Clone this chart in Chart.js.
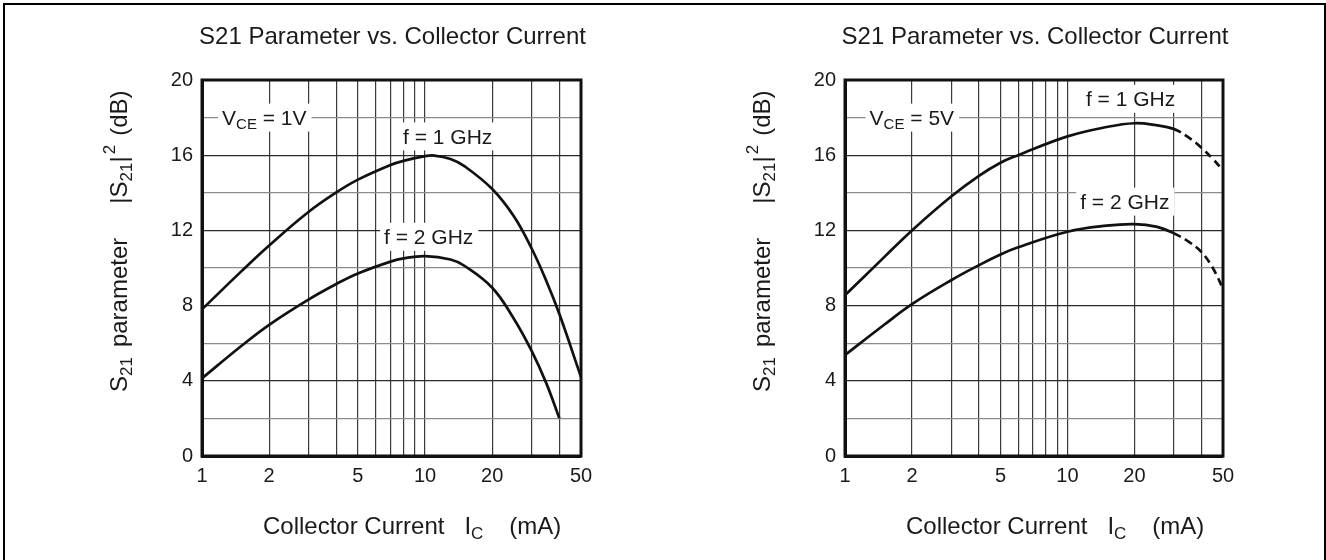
<!DOCTYPE html>
<html><head><meta charset="utf-8">
<script src="https://cdn.jsdelivr.net/npm/chart.js@4.4.1/dist/chart.umd.min.js"></script>
<style>
html,body{margin:0;padding:0;background:#fff;}
#wrap{position:relative;width:1326px;height:560px;overflow:hidden;background:#fff;}
.c{position:absolute;top:0;width:663px;height:560px;}
.frame{position:absolute;left:3px;top:3px;width:1323px;height:620px;border:2px solid #000;box-sizing:border-box;pointer-events:none;}
</style></head>
<body><div id="wrap">
<div class="c" style="left:0"><canvas id="c1" width="663" height="560"></canvas></div>
<div class="c" style="left:663px"><canvas id="c2" width="663" height="560"></canvas></div>
<div class="frame"></div>
</div>
<script>
// ---------- data ----------
const titleText = 'S21 Parameter vs. Collector Current';
const xGridValues = [1, 2, 3, 4, 5, 6, 7, 8, 9, 10, 20, 30, 40, 50];
const xTickLabels = [1, 2, 5, 10, 20, 50];
const yTickLabels = [0, 4, 8, 12, 16, 20];

// V_CE = 1V
const ic1GHz_1V = [1, 1.5, 2, 3, 4, 5, 7, 8, 10, 11, 13, 15, 20, 25, 30, 35, 40, 50];
const s21_1GHz_1V = [7.8, 9.82, 11.2, 12.98, 14.02, 14.7, 15.48, 15.7, 15.95, 15.98, 15.8, 15.42, 14.2, 12.75, 11.05, 9.3, 7.55, 4.2];
const ic2GHz_1V = [1, 1.5, 2, 3, 4, 5, 7, 8, 10, 13, 15, 20, 25, 30, 35, 40];
const s21_2GHz_1V = [4.13, 5.85, 6.98, 8.32, 9.15, 9.71, 10.34, 10.51, 10.63, 10.45, 10.12, 8.95, 7.3, 5.6, 3.85, 2.0];

// V_CE = 5V (dashed beyond 30 mA)
const ic_5V = [1, 1.5, 2, 3, 4, 5, 6, 10, 15, 20, 25, 30, 35, 40, 45, 50];
const s21_1GHz_5V = [8.55, 10.58, 12.0, 13.8, 14.9, 15.6, 16.0, 17.0, 17.5, 17.7, 17.6, 17.4, 16.95, 16.4, 15.8, 15.2];
const s21_2GHz_5V = [5.37, 6.98, 8.08, 9.35, 10.15, 10.72, 11.1, 11.93, 12.25, 12.33, 12.2, 11.85, 11.4, 10.85, 10.0, 8.9];
const dashedFrom_5V = 30;

// ---------- helpers ----------
const FONT = '"Liberation Sans", Arial, Helvetica, sans-serif';
const TXT = '#1a1a1a';
const pts = (xs, ys) => xs.map((x, i) => ({x, y: ys[i]}));

function drawRich(ctx, parts, x, y) {
  for (const p of parts) {
    if (p.gap) { x += p.gap; continue; }
    ctx.font = p.s + 'px ' + FONT;
    ctx.fillText(p.t, x, y + (p.dy || 0));
    x += ctx.measureText(p.t).width;
  }
  return x;
}
function richWidth(ctx, parts) {
  let w = 0;
  for (const p of parts) {
    if (p.gap) { w += p.gap; continue; }
    ctx.font = p.s + 'px ' + FONT;
    w += ctx.measureText(p.t).width;
  }
  return w;
}

const decoPlugin = {
  id: 'deco',
  beforeDatasetsDraw(chart, args, opts) {
    const ctx = chart.ctx, xs = chart.scales.x, ys = chart.scales.y;
    ctx.save();
    ctx.textBaseline = 'alphabetic';
    for (const n of opts.notes) {
      const px = xs.getPixelForValue(n.x), py = ys.getPixelForValue(n.y);
      const w = richWidth(ctx, n.parts);
      ctx.fillStyle = '#fff';
      ctx.fillRect(px - 4, py - 14, w + 9, 28);
      ctx.fillStyle = TXT;
      drawRich(ctx, n.parts, px, py + 7.5);
    }
    ctx.restore();
  },
  afterDraw(chart, args, opts) {
    const ctx = chart.ctx, a = chart.chartArea;
    ctx.save();
    ctx.strokeStyle = '#111';
    ctx.lineWidth = 3;
    ctx.strokeRect(a.left, a.top, a.right - a.left, a.bottom - a.top);
    ctx.fillStyle = TXT;
    ctx.textBaseline = 'alphabetic';
    // title
    ctx.font = '24px ' + FONT;
    ctx.textAlign = 'center';
    ctx.fillText(titleText, (a.left + a.right) / 2 + 1, 44);
    ctx.textAlign = 'left';
    // x axis title
    const xt = [{t:'Collector Current', s:24}, {gap:20}, {t:'I', s:24}, {t:'C', s:17, dy:5}, {gap:26}, {t:'(mA)', s:24}];
    drawRich(ctx, xt, a.left + 61, 534);
    // y axis title
    ctx.translate(a.left - 84, 392);
    ctx.rotate(-Math.PI / 2);
    const yt = [{t:'S', s:24}, {t:'21', s:17, dy:5}, {gap:10}, {t:'parameter', s:24}, {gap:34},
                {t:'|S', s:24}, {t:'21', s:17, dy:5}, {t:'|', s:24}, {gap:2}, {t:'2', s:17, dy:-12}, {gap:9}, {t:'(dB)', s:24}];
    drawRich(ctx, yt, 0, 8.5);
    ctx.restore();
  }
};

function makeChart(id, padLeft, padRight, datasets, notes) {
  return new Chart(document.getElementById(id), {
    type: 'line',
    data: { datasets },
    plugins: [decoPlugin],
    options: {
      responsive: false,
      animation: false,
      devicePixelRatio: 1,
      layout: { padding: { left: padLeft, right: padRight, top: 80, bottom: 64 } },
      plugins: { legend: { display: false }, tooltip: { enabled: false }, title: { display: false },
                 deco: { notes } },
      elements: { point: { radius: 0 }, line: { borderWidth: 2.7, borderColor: '#111', tension: 0.4, fill: false } },
      scales: {
        x: {
          type: 'logarithmic', min: 1, max: 50,
          afterBuildTicks: (s) => { s.ticks = xGridValues.map(v => ({ value: v })); },
          afterFit: (s) => { s.height = 40; },
          ticks: { autoSkip: false, maxRotation: 0, minRotation: 0, padding: 8, color: TXT,
                   font: { family: FONT, size: 20 },
                   callback: (v) => xTickLabels.includes(v) ? String(v) : '' },
          grid: { color: '#3a3a3a', lineWidth: 1.2, drawTicks: false },
          border: { color: '#111', width: 3 }
        },
        y: {
          type: 'linear', min: 0, max: 20,
          afterFit: (s) => { s.width = 60; },
          ticks: { stepSize: 2, padding: 9, color: TXT, font: { family: FONT, size: 20 },
                   callback: (v) => yTickLabels.includes(v) ? String(v) : '' },
          grid: { color: (c) => (c.tick && c.tick.value % 4 === 0) ? '#2a2a2a' : '#8c8c8c', lineWidth: 1.2, drawTicks: false },
          border: { color: '#111', width: 3 }
        }
      }
    }
  });
}

makeChart('c1', 142, 82, [
  { data: pts(ic1GHz_1V, s21_1GHz_1V) },
  { data: pts(ic2GHz_1V, s21_2GHz_1V) }
], [
  { x: 1.23, y: 18, parts: [{t:'V', s:21}, {t:'CE', s:15, dy:4}, {t:' = 1V', s:21}] },
  { x: 7.97, y: 17, parts: [{t:'f = 1 GHz', s:21}] },
  { x: 6.55, y: 11.66, parts: [{t:'f = 2 GHz', s:21}] }
]);

const dashSeg = { borderDash: (c) => c.p0.parsed.x >= dashedFrom_5V ? [8, 5] : undefined };
makeChart('c2', 122, 103, [
  { data: pts(ic_5V, s21_1GHz_5V), segment: dashSeg },
  { data: pts(ic_5V, s21_2GHz_5V), segment: dashSeg }
], [
  { x: 1.29, y: 18, parts: [{t:'V', s:21}, {t:'CE', s:15, dy:4}, {t:' = 5V', s:21}] },
  { x: 12.1, y: 19, parts: [{t:'f = 1 GHz', s:21}] },
  { x: 11.4, y: 13.53, parts: [{t:'f = 2 GHz', s:21}] }
]);
</script>
</body></html>
